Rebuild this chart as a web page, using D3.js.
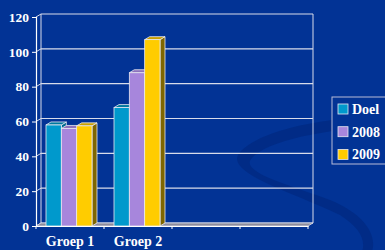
<!DOCTYPE html>
<html>
<head>
<meta charset="utf-8">
<script src="https://cdn.jsdelivr.net/npm/d3@7"></script>
<style>
  body { margin: 0; background: #023395; overflow: hidden; }
  text { font-family: "Liberation Serif", "Times New Roman", serif; font-weight: bold; fill: #fff; }
</style>
</head>
<body>
<div id="chart"></div>
<script>
// data
var categories = ["Groep 1", "Groep 2", "", ""];
var series = ["Doel", "2008", "2009"];
var doel = [58, 68];
var y2008 = [56, 88];
var y2009 = [57.5, 107];
var yTicks = [0, 20, 40, 60, 80, 100, 120];

var colors = { "Doel": "#0099cc", "2008": "#a786dc", "2009": "#ffcc00" };
var sideColors = { "Doel": "#006b8f", "2008": "#7a62a6", "2009": "#7f6600" };
var topColors = { "Doel": "#00789f", "2008": "#8c72bd", "2009": "#c9a000" };

var width = 385, height = 250;
var dx = 5, dy = -3;   // 3d depth offset

var svg = d3.select("#chart").append("svg")
    .attr("width", width).attr("height", height);

svg.append("rect").attr("width", width).attr("height", height).attr("fill", "#023395");

// background swirl (crescent)
svg.append("path")
    .attr("d", "M 392 116 C 330 116, 255 130, 238 155 C 228 175, 300 195, 340 215 C 360 228, 366 240, 362 252" +
        " L 372 252 C 378 232, 360 212, 330 200 C 290 185, 238 172, 252 158 C 268 140, 330 128, 392 126 Z")
    .attr("fill", "#012a84")
    .attr("opacity", 0.85);

var x0 = d3.scaleBand().domain(d3.range(categories.length)).range([36, 308]);
var x1 = d3.scaleBand().domain(series).range([10, 56]);
var y = d3.scaleLinear().domain([0, 120]).range([226, 17]);

// back wall + gridlines
var wall = svg.append("g");
wall.selectAll("line.grid")
    .data(yTicks)
    .enter().append("line")
    .attr("x1", 36 + dx).attr("x2", 308 + dx)
    .attr("y1", function (d) { return y(d) + dy; })
    .attr("y2", function (d) { return y(d) + dy; })
    .attr("stroke", "#d8dcea").attr("stroke-width", 1.2);
wall.selectAll("line.side")
    .data(yTicks)
    .enter().append("line")
    .attr("x1", 36).attr("x2", 36 + dx)
    .attr("y1", function (d) { return y(d); })
    .attr("y2", function (d) { return y(d) + dy; })
    .attr("stroke", "#d8dcea").attr("stroke-width", 1);
wall.append("line")
    .attr("x1", 36 + dx).attr("x2", 36 + dx)
    .attr("y1", y(120) + dy).attr("y2", y(0) + dy)
    .attr("stroke", "#d8dcea");
wall.append("line")
    .attr("x1", 308 + dx).attr("x2", 308 + dx)
    .attr("y1", y(120) + dy).attr("y2", y(0) + dy)
    .attr("stroke", "#d8dcea");

// floor
svg.append("path")
    .attr("d", "M36," + y(0) + " L" + (36 + dx) + "," + (y(0) + dy) + " L" + (308 + dx) + "," + (y(0) + dy) + " L308," + y(0) + " Z")
    .attr("fill", "#8c8c9c").attr("stroke", "#d8dcea").attr("stroke-width", 0.8);

// bars
var rows = [];
categories.forEach(function (c, i) {
    if (i < doel.length) {
        rows.push({ cat: i, s: "Doel", v: doel[i] });
        rows.push({ cat: i, s: "2008", v: y2008[i] });
        rows.push({ cat: i, s: "2009", v: y2009[i] });
    }
});

var bw = x1.bandwidth();
var bars = svg.selectAll("g.bar").data(rows).enter().append("g");
bars.append("path") // side
    .attr("d", function (d) {
        var xr = x0(d.cat) + x1(d.s) + bw;
        return "M" + xr + "," + y(0) + " L" + (xr + dx) + "," + (y(0) + dy) +
            " L" + (xr + dx) + "," + (y(d.v) + dy) + " L" + xr + "," + y(d.v) + " Z";
    })
    .attr("fill", function (d) { return sideColors[d.s]; })
    .attr("stroke", "#e8e8f0").attr("stroke-width", 0.8);
bars.append("path") // top
    .attr("d", function (d) {
        var xl = x0(d.cat) + x1(d.s);
        return "M" + xl + "," + y(d.v) + " L" + (xl + dx) + "," + (y(d.v) + dy) +
            " L" + (xl + bw + dx) + "," + (y(d.v) + dy) + " L" + (xl + bw) + "," + y(d.v) + " Z";
    })
    .attr("fill", function (d) { return topColors[d.s]; })
    .attr("stroke", "#e8e8f0").attr("stroke-width", 0.8);
bars.append("rect") // front
    .attr("x", function (d) { return x0(d.cat) + x1(d.s); })
    .attr("y", function (d) { return y(d.v); })
    .attr("width", bw)
    .attr("height", function (d) { return y(0) - y(d.v); })
    .attr("fill", function (d) { return colors[d.s]; })
    .attr("stroke", "#e8e8f0").attr("stroke-width", 0.8);

// axes
var yAxis = svg.append("g")
    .attr("transform", "translate(36,0)")
    .call(d3.axisLeft(y).tickValues(yTicks).tickSize(4).tickPadding(3));
var xAxis = svg.append("g")
    .attr("transform", "translate(0," + y(0) + ")")
    .call(d3.axisBottom(x0).tickFormat(function (i) { return categories[i]; }).tickSize(0).tickPadding(12));
svg.selectAll("line.xt")
    .data(d3.range(categories.length + 1))
    .enter().append("line")
    .attr("x1", function (i) { return 36 + i * x0.bandwidth(); })
    .attr("x2", function (i) { return 36 + i * x0.bandwidth(); })
    .attr("y1", y(0)).attr("y2", y(0) + 3)
    .attr("stroke", "#fff");
svg.selectAll(".domain").attr("stroke", "#fff").attr("stroke-width", 1.2);
svg.selectAll(".tick line").attr("stroke", "#fff");
yAxis.selectAll("text").style("font-size", "13.5px").attr("fill", "#fff");
xAxis.selectAll("text").style("font-size", "14px").attr("fill", "#fff").attr("dy", "0.6em");

// legend
var legend = svg.append("g").attr("transform", "translate(332,97)");
legend.append("rect").attr("width", 70).attr("height", 67)
    .attr("fill", "#023395").attr("stroke", "#b8bcd8").attr("stroke-width", 1);
series.forEach(function (s, i) {
    legend.append("rect")
        .attr("x", 6).attr("y", 7 + i * 22.7).attr("width", 10).attr("height", 10)
        .attr("fill", colors[s]).attr("stroke", "#e8e8f0").attr("stroke-width", 0.8);
    legend.append("text")
        .attr("x", 20).attr("y", 17 + i * 22.7)
        .style("font-size", "14px")
        .text(s);
});
</script>
</body>
</html>
